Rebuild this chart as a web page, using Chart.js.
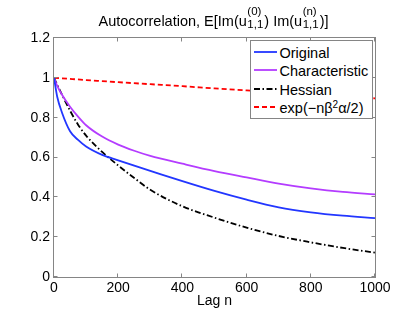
<!DOCTYPE html>
<html>
<head>
<meta charset="utf-8">
<script src="https://cdn.jsdelivr.net/npm/chart.js@4.4.0/dist/chart.umd.min.js"></script>
<style>
html, body { margin: 0; padding: 0; background: #fff; }
canvas { display: block; }
#marco { position: relative; width: 415px; height: 312px; }
#leyenda {
	position: absolute; left: 250px; top: 40px; width: 121px; height: 77px;
	border: 1px solid #858585; background: #fff;
	font-family: 'Liberation Sans', Arial, sans-serif; font-size: 14.5px; color: #000;
}
#leyenda .fila { position: absolute; left: 0; height: 18px; line-height: 18px; white-space: nowrap; }
#leyenda svg { position: absolute; left: 3px; top: 0; }
#leyenda span { position: absolute; left: 28.5px; top: 1px; }
#leyenda sup { font-size: 10px; vertical-align: 5px; line-height: 0; }
</style>
</head>
<body>
<div id="marco">
<canvas id="myChart" width="415" height="312"></canvas>
<div id="leyenda"></div>
</div>
<script>
const CANVAS_WIDTH = 415;
const CANVAS_HEIGHT = 312;
const FONT = "'Liberation Sans', Arial, sans-serif";
const AXIS_COLOR = '#858585';

var lags = [0, 10, 25, 50, 75, 100, 150, 200, 250, 300, 400, 500, 600, 700, 800, 900, 1000];
var original = [1.0, 0.905, 0.825, 0.732, 0.688, 0.655, 0.613, 0.586, 0.559, 0.533, 0.481, 0.432, 0.388, 0.350, 0.325, 0.308, 0.296];
var characteristic = [1.0, 0.96, 0.915, 0.855, 0.805, 0.762, 0.705, 0.665, 0.634, 0.608, 0.569, 0.532, 0.50, 0.469, 0.445, 0.427, 0.415];
var hessian = [1.0, 0.965, 0.915, 0.835, 0.765, 0.71, 0.628, 0.56, 0.497, 0.438, 0.355, 0.298, 0.248, 0.206, 0.174, 0.146, 0.122];
var expLags = [0, 100, 200, 300, 400, 500, 600, 700, 800, 900, 1000];
var expTheory = [1.0, 0.989, 0.978, 0.968, 0.958, 0.947, 0.937, 0.927, 0.917, 0.907, 0.897];

var seriesNames = ['Original', 'Characteristic', 'Hessian', 'exp(\u2212n\u03b2\u00b2\u03b1/2)'];
var xTicks = [0, 200, 400, 600, 800, 1000];
var xTickLabels = ['0', '200', '400', '600', '800', '1000'];
var yTicks = [0, 0.2, 0.4, 0.6, 0.8, 1, 1.2];
var yTickLabels = ['0', '0.2', '0.4', '0.6', '0.8', '1', '1.2'];
var xLabel = 'Lag n';
// title pieces: plain text, or a stacked superscript/subscript
var titleParts = [
	{ t: 'Autocorrelation, E[Im(u' },
	{ sup: '(0)', sub: '1,1' },
	{ t: ') Im(u' },
	{ sup: '(n)', sub: '1,1' },
	{ t: ')]' }
];

function to_points(xs, ys){
	return xs.map(function(x, i){ return { x: x, y: ys[i] }; });
}

function dibujar_titulo(ctx, chart){
	var a = chart.chartArea;
	var big = '14.5px ' + FONT, small = '11.5px ' + FONT;
	var total = 0;
	titleParts.forEach(function(p){
		if (p.t !== undefined){ ctx.font = big; p.w = ctx.measureText(p.t).width; }
		else { ctx.font = small; p.w = Math.max(ctx.measureText(p.sup).width, ctx.measureText(p.sub).width) + 1.5; }
		total += p.w;
	});
	var x = (a.left + a.right) / 2 - total / 2 - 1;
	ctx.fillStyle = '#000';
	ctx.textAlign = 'left';
	ctx.textBaseline = 'alphabetic';
	titleParts.forEach(function(p){
		if (p.t !== undefined){
			ctx.font = big;
			ctx.fillText(p.t, x, 26);
		} else {
			ctx.font = small;
			ctx.fillText(p.sup, x + 0.5, 15);
			ctx.fillText(p.sub, x + 0.5, 27.5);
		}
		x += p.w;
	});
}

// legend as html on top of the canvas, built from the datasets
function armar_leyenda(chart){
	var caja = document.getElementById('leyenda');
	chart.data.datasets.forEach(function(ds, i){
		var y = 52 + i * 18.3;
		var fila = document.createElement('div');
		fila.className = 'fila';
		fila.style.top = (y - 9 - 41) + 'px';
		fila.style.width = '121px';
		var dash = ds.borderDash ? ' stroke-dasharray="' + ds.borderDash.join(' ') + '"' : '';
		var texto = ds.label.replace('\u00b2', '<sup>2</sup>');
		fila.innerHTML = '<svg width="24" height="18"><line x1="0" y1="9" x2="23" y2="9" stroke="' + ds.borderColor +
			'" stroke-width="' + ds.borderWidth + '"' + dash + '/></svg><span>' + texto + '</span>';
		caja.appendChild(fila);
	});
}

var marco = {
	id: 'marco',
	afterDraw: function(chart){
		var ctx = chart.ctx, a = chart.chartArea;
		var sx = chart.scales.x, sy = chart.scales.y;
		ctx.save();
		ctx.strokeStyle = AXIS_COLOR;
		ctx.lineWidth = 1;
		ctx.setLineDash([]);
		ctx.strokeRect(a.left - 0.5, a.top - 0.5, a.right - a.left + 1, a.bottom - a.top + 1);
		ctx.beginPath();
		xTicks.forEach(function(v){
			var px = Math.round(sx.getPixelForValue(v)) - 0.5;
			ctx.moveTo(px, a.bottom); ctx.lineTo(px, a.bottom - 3.5);
			ctx.moveTo(px, a.top); ctx.lineTo(px, a.top + 3.5);
		});
		yTicks.forEach(function(v){
			var py = Math.round(sy.getPixelForValue(v)) - 0.5;
			ctx.moveTo(a.left, py); ctx.lineTo(a.left + 3.5, py);
			ctx.moveTo(a.right, py); ctx.lineTo(a.right - 3.5, py);
		});
		ctx.stroke();
		dibujar_titulo(ctx, chart);
		ctx.restore();
	}
};

Chart.defaults.font.family = FONT;
Chart.defaults.font.size = 14;
Chart.defaults.color = '#000';

var chart_config = {
	type: 'line',
	data: {
		datasets: [{
			label: seriesNames[0],
			data: to_points(lags, original),
			borderColor: '#2236ff',
			borderWidth: 1.8
		}, {
			label: seriesNames[1],
			data: to_points(lags, characteristic),
			borderColor: '#b43cff',
			borderWidth: 1.8
		}, {
			label: seriesNames[2],
			data: to_points(lags, hessian),
			borderColor: '#000000',
			borderWidth: 1.8,
			borderDash: [6, 2.5, 1.5, 2.5]
		}, {
			label: seriesNames[3],
			data: to_points(expLags, expTheory),
			borderColor: '#ff0000',
			borderWidth: 1.8,
			borderDash: [5, 3]
		}]
	},
	options: {
		responsive: false,
		animation: false,
		layout: { padding: { left: 0, right: 40, top: 38, bottom: 0 } },
		elements: {
			point: { radius: 0 },
			line: { cubicInterpolationMode: 'monotone', fill: false }
		},
		plugins: {
			legend: { display: false },
			tooltip: { enabled: false },
			title: { display: false }
		},
		scales: {
			x: {
				type: 'linear',
				min: 0,
				max: 1000,
				grid: { display: false, drawTicks: false },
				border: { display: false },
				afterBuildTicks: function(scale){
					scale.ticks = xTicks.map(function(v){ return { value: v }; });
				},
				ticks: {
					padding: 3,
					maxRotation: 0,
					autoSkip: false,
					callback: function(value, index){ return xTickLabels[index]; }
				},
				title: { display: true, text: xLabel, padding: 2, font: { size: 14 } },
				afterFit: function(scale){
					scale.height = 35;
					scale.paddingLeft = 0;
					scale.paddingRight = 0;
				}
			},
			y: {
				min: 0,
				max: 1.2,
				grid: { display: false, drawTicks: false },
				border: { display: false },
				afterBuildTicks: function(scale){
					scale.ticks = yTicks.map(function(v){ return { value: v }; });
				},
				ticks: {
					padding: 4,
					autoSkip: false,
					callback: function(value, index){ return yTickLabels[index]; }
				},
				afterFit: function(scale){
					scale.width = 54;
					scale.paddingTop = 0;
					scale.paddingBottom = 0;
				}
			}
		}
	},
	plugins: [marco]
};

var ctx = document.getElementById('myChart').getContext('2d');
var chart = new Chart(ctx, chart_config);
armar_leyenda(chart);
</script>
</body>
</html>
